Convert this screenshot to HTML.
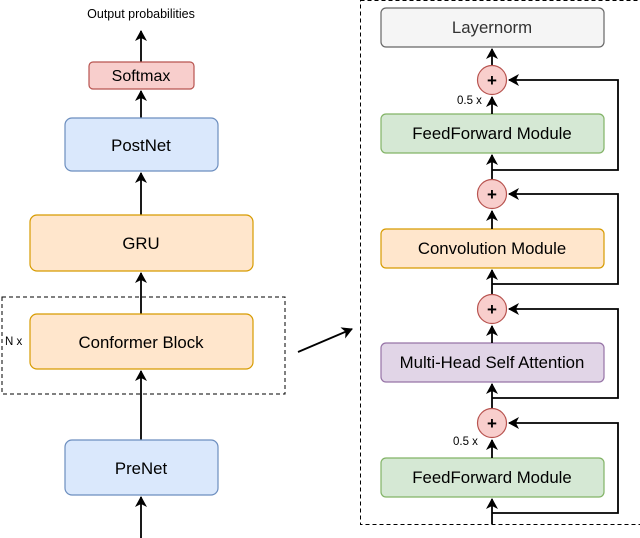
<html><body style="margin:0;width:640px;height:538px;background:#fff;position:relative;overflow:hidden">
<svg width="640" height="538" xmlns="http://www.w3.org/2000/svg" font-family="Liberation Sans, sans-serif">
<defs><marker id="a" markerWidth="12" markerHeight="12" refX="10" refY="6" orient="auto" markerUnits="userSpaceOnUse"><path d="M0,0 L11,6 L0,12 L3,6 z" fill="#000"/></marker></defs>
<rect x="2" y="297" width="283" height="97" fill="none" stroke="#000" stroke-dasharray="4,3"/>
<rect x="360.5" y="0.5" width="285" height="524" fill="none" stroke="#000" stroke-dasharray="4,3"/>
<g stroke="#000" stroke-width="1.8" fill="none">
<line x1="141" y1="538" x2="141" y2="497" marker-end="url(#a)"/>
<line x1="141" y1="440" x2="141" y2="371" marker-end="url(#a)"/>
<line x1="141" y1="314" x2="141" y2="273" marker-end="url(#a)"/>
<line x1="141" y1="215" x2="141" y2="173" marker-end="url(#a)"/>
<line x1="141" y1="118" x2="141" y2="91" marker-end="url(#a)"/>
<line x1="141" y1="62" x2="141" y2="31" marker-end="url(#a)"/>
<line x1="298" y1="352" x2="352" y2="329" marker-end="url(#a)"/>
</g>
<g stroke-width="1.2">
<rect x="89" y="62" width="105" height="27" rx="4" fill="#f8cecc" stroke="#b85450"/>
<rect x="65" y="118" width="153" height="53" rx="7" fill="#dae8fc" stroke="#6c8ebf"/>
<rect x="30" y="215" width="223" height="56" rx="7" fill="#ffe6cc" stroke="#d79b00"/>
<rect x="30" y="314" width="223" height="55" rx="7" fill="#ffe6cc" stroke="#d79b00"/>
<rect x="65" y="440" width="153" height="55" rx="7" fill="#dae8fc" stroke="#6c8ebf"/>
<rect x="381" y="8" width="223" height="39" rx="5" fill="#f5f5f5" stroke="#666"/>
<rect x="381" y="114" width="223" height="39" rx="5" fill="#d5e8d4" stroke="#82b366"/>
<rect x="381" y="229" width="223" height="39" rx="5" fill="#ffe6cc" stroke="#d79b00"/>
<rect x="381" y="343" width="223" height="39" rx="5" fill="#e1d5e7" stroke="#9673a6"/>
<rect x="381" y="458" width="223" height="39" rx="5" fill="#d5e8d4" stroke="#82b366"/>
</g>
<g stroke="#000" stroke-width="1.8" fill="none">
<line x1="492" y1="524" x2="492" y2="499" marker-end="url(#a)"/>
<polyline points="492,513 618,513 618,423 509,423" marker-end="url(#a)"/>
<line x1="492" y1="458" x2="492" y2="440" marker-end="url(#a)"/>
<line x1="492" y1="408" x2="492" y2="384" marker-end="url(#a)"/>
<polyline points="492,398 618,398 618,309 509,309" marker-end="url(#a)"/>
<line x1="492" y1="343" x2="492" y2="326" marker-end="url(#a)"/>
<line x1="492" y1="294" x2="492" y2="270" marker-end="url(#a)"/>
<polyline points="492,284 618,284 618,194 509,194" marker-end="url(#a)"/>
<line x1="492" y1="229" x2="492" y2="211" marker-end="url(#a)"/>
<line x1="492" y1="179" x2="492" y2="155" marker-end="url(#a)"/>
<polyline points="492,170 618,170 618,80 509,80" marker-end="url(#a)"/>
<line x1="492" y1="114" x2="492" y2="97" marker-end="url(#a)"/>
<line x1="492" y1="65" x2="492" y2="49" marker-end="url(#a)"/>
</g>
<g fill="#f8cecc" stroke="#b85450" stroke-width="1.2">
<circle cx="492" cy="80" r="14.5"/><circle cx="492" cy="194" r="14.5"/><circle cx="492" cy="309" r="14.5"/><circle cx="492" cy="423" r="14.5"/>
</g>
<g font-size="16.8" text-anchor="middle" fill="#000">
<g font-size="17" font-weight="bold"><text x="492" y="86">+</text><text x="492" y="200">+</text><text x="492" y="315">+</text><text x="492" y="429">+</text></g>
<text x="141" y="81" font-size="16">Softmax</text>
<text x="141" y="151">PostNet</text>
<text x="141" y="249">GRU</text>
<text x="141" y="348">Conformer Block</text>
<text x="141" y="474">PreNet</text>
<text x="492" y="33" fill="#333">Layernorm</text>
<text x="492" y="139">FeedForward Module</text>
<text x="492" y="254">Convolution Module</text>
<text x="492" y="368">Multi-Head Self Attention</text>
<text x="492" y="483">FeedForward Module</text>
<text x="141" y="18" font-size="12.5">Output probabilities</text>
</g>
<g font-size="11.5" fill="#000"><text x="5" y="345">N x</text><text x="457" y="104">0.5 x</text><text x="453" y="445">0.5 x</text></g>
</svg>
</body></html>
